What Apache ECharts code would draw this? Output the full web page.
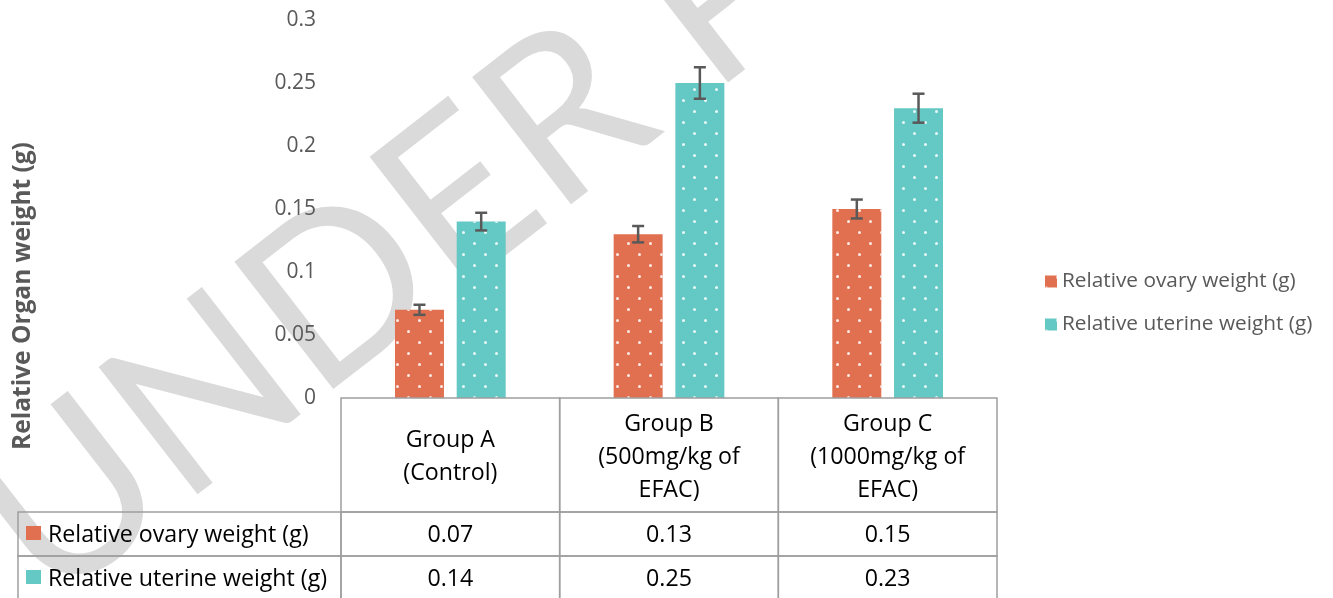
<!DOCTYPE html>
<html><head><meta charset="utf-8">
<script src="https://cdn.jsdelivr.net/npm/echarts@6/dist/echarts.min.js"></script>
<style>html,body{margin:0;padding:0;background:#fff}#c{width:1333px;height:598px}</style>
</head><body><div id="c"></div>
<script>
// ---- data ----
const categories = ['Group A\n(Control)', 'Group B\n(500mg/kg of\nEFAC)', 'Group C\n(1000mg/kg of\nEFAC)'];
const seriesNames = ['Relative ovary weight (g)', 'Relative uterine weight (g)'];
const ovary = [0.07, 0.13, 0.15];
const uterine = [0.14, 0.25, 0.23];
const ovaryErr = [0.004, 0.0065, 0.0075];
const uterineErr = [0.007, 0.0125, 0.0115];
const yTicks = [0, 0.05, 0.1, 0.15, 0.2, 0.25, 0.3];
const yTickLabels = ['0', '0.05', '0.1', '0.15', '0.2', '0.25', '0.3'];
const yTitle = 'Relative Organ weight (g)';
const watermark = 'UNDER PEER REVIEW';

// ---- style ----
const COLORS = ['#E0704F', '#64C8C5'];
const FONT = '"Open Sans", "Noto Sans", sans-serif';
const BAR_W = 0.224, BAR_GAP = 0.26;
const LINE = '#9f9f9f';
const HEADER_H = 114, ROW_H = 44, TABLE_LEFT = 18;
const TABLE_FS = 23.2;

const dotDecal = {
  symbol: 'circle', symbolSize: 1, color: 'rgba(255,255,255,0.85)',
  dashArrayX: [[3, 19], [0, 11, 3, 8]], dashArrayY: [3, 8], rotation: 0
};

function barOffset(api, s) {
  const bw = api.size([1, 0])[0];
  const w = bw * BAR_W, g = w * BAR_GAP;
  return (s === 0 ? -1 : 1) * (w + g) / 2;
}
function errRender(s) {
  return function (params, api) {
    const i = api.value(0);
    const lo = api.coord([i, api.value(1)]);
    const hi = api.coord([i, api.value(2)]);
    const x = lo[0] + barOffset(api, s);
    const st = { stroke: '#595959', lineWidth: 2.5 };
    return { type: 'group', children: [
      { type: 'line', shape: { x1: x, y1: lo[1], x2: x, y2: hi[1] }, style: st },
      { type: 'line', shape: { x1: x - 6, y1: lo[1], x2: x + 6, y2: lo[1] }, style: st },
      { type: 'line', shape: { x1: x - 6, y1: hi[1], x2: x + 6, y2: hi[1] }, style: st }
    ]};
  };
}
const rows = [ovary, uterine];
function tableRender(params, api) {
  const i = api.value(0);
  const c = api.coord([i, 0]);
  const bw = api.size([1, 0])[0];
  const x0 = c[0] - bw / 2, y0 = c[1];
  const cellStyle = { fill: 'none', stroke: LINE, lineWidth: 1.5 };
  const txt = { fill: '#000', fontFamily: FONT, fontSize: TABLE_FS, align: 'center', verticalAlign: 'middle' };
  const ch = [];
  ch.push({ type: 'rect', shape: { x: x0, y: y0, width: bw, height: HEADER_H }, style: cellStyle });
  ch.push({ type: 'text', style: Object.assign({ text: categories[i], x: c[0], y: y0 + HEADER_H / 2 + 2, lineHeight: 33 }, txt) });
  rows.forEach((r, k) => {
    const ry = y0 + HEADER_H + k * ROW_H;
    ch.push({ type: 'rect', shape: { x: x0, y: ry, width: bw, height: ROW_H + (k === 1 ? 20 : 0) }, style: cellStyle });
    ch.push({ type: 'text', style: Object.assign({ text: r[i].toFixed(2), x: c[0], y: ry + ROW_H / 2 + 1 }, txt) });
    if (i === 0) {
      ch.push({ type: 'rect', shape: { x: TABLE_LEFT, y: ry, width: x0 - TABLE_LEFT, height: ROW_H + (k === 1 ? 20 : 0) }, style: cellStyle });
      ch.push({ type: 'rect', shape: { x: TABLE_LEFT + 8, y: ry + ROW_H / 2 - 8, width: 15, height: 14 }, style: { fill: COLORS[k] } });
      ch.push({ type: 'text', style: { text: seriesNames[k], x: TABLE_LEFT + 30, y: ry + ROW_H / 2 + 1, fill: '#000', fontFamily: FONT, fontSize: TABLE_FS, align: 'left', verticalAlign: 'middle' } });
    }
  });
  return { type: 'group', children: ch };
}

const chart = echarts.init(document.getElementById('c'), null, { renderer: 'canvas' });
chart.setOption({
  animation: false,
  backgroundColor: '#fff',
  grid: { left: 341, right: 336, top: 20, bottom: 200, containLabel: false },
  graphic: [
    { type: 'text', z: -10, zlevel: 0, x: 75, y: 640, rotation: 0.66,
      style: { text: watermark, fill: '#dadada', font: '400 225px Lato, sans-serif', verticalAlign: 'bottom' } },
    { type: 'text', x: 23, y: 296, rotation: Math.PI / 2,
      style: { text: yTitle, fill: '#595959', font: 'bold 24.5px "Open Sans", sans-serif', align: 'center', verticalAlign: 'middle' } }
  ],
  legend: {
    orient: 'vertical', left: 1040, top: 266, itemWidth: 12, itemHeight: 12, itemGap: 22,
    icon: 'rect', data: seriesNames,
    textStyle: { color: '#595959', fontSize: 20.8, fontFamily: FONT }
  },
  xAxis: {
    type: 'category', data: categories,
    axisLine: { show: false }, axisTick: { show: false }, axisLabel: { show: false }
  },
  yAxis: {
    type: 'value', min: 0, max: 0.3, interval: 0.05,
    axisLine: { show: false }, axisTick: { show: false }, splitLine: { show: false },
    axisLabel: {
      color: '#595959', fontSize: 21, fontFamily: FONT, margin: 25,
      formatter: v => { const k = yTicks.findIndex(t => Math.abs(t - v) < 1e-9); return k >= 0 ? yTickLabels[k] : ''; }
    }
  },
  series: [
    { type: 'bar', name: seriesNames[0], data: ovary, barWidth: (BAR_W * 100) + '%', barGap: (BAR_GAP * 100) + '%',
      itemStyle: { color: COLORS[0], decal: dotDecal }, z: 3 },
    { type: 'bar', name: seriesNames[1], data: uterine, barWidth: (BAR_W * 100) + '%', barGap: (BAR_GAP * 100) + '%',
      itemStyle: { color: COLORS[1], decal: dotDecal }, z: 3 },
    { type: 'custom', name: 'err0', data: ovary.map((v, i) => [i, v - ovaryErr[i], v + ovaryErr[i]]),
      renderItem: errRender(0), z: 10, silent: true },
    { type: 'custom', name: 'err1', data: uterine.map((v, i) => [i, v - uterineErr[i], v + uterineErr[i]]),
      renderItem: errRender(1), z: 10, silent: true },
    { type: 'custom', name: 'table', data: categories.map((c, i) => [i]), clip: false,
      renderItem: tableRender, z: 5, silent: true }
  ]
});
</script></body></html>
